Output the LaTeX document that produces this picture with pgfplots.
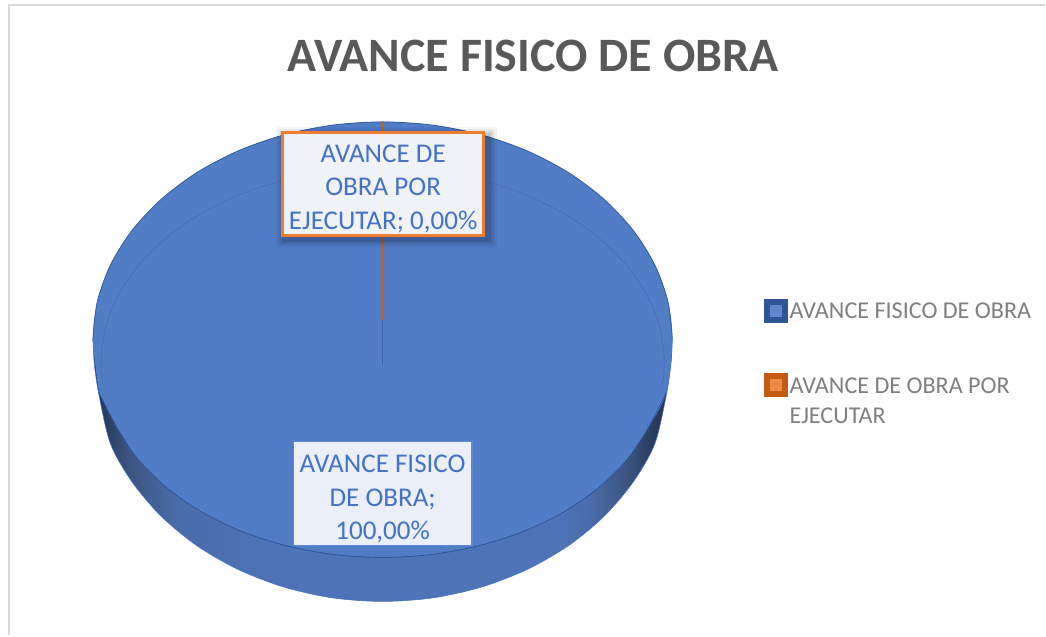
\documentclass[border=0pt]{standalone}
\usepackage{fontspec}
\setmainfont{Carlito}
\usepackage{pgfplots}
\pgfplotsset{compat=1.18}
\definecolor{face}{HTML}{517CC6}
\definecolor{sd0}{HTML}{22324F}
\definecolor{sd1}{HTML}{2A3C60}
\definecolor{sd2}{HTML}{3C5480}
\definecolor{sd3}{HTML}{4A6BA8}
\definecolor{sd4}{HTML}{4E73B8}
\definecolor{edgeblue}{HTML}{2F5597}
\definecolor{lblblue}{HTML}{4472C4}
\definecolor{lblorange}{HTML}{ED7D31}
\definecolor{sliceorange}{HTML}{C55A11}
\definecolor{legtext}{HTML}{7F7F7F}
\definecolor{titlegrey}{HTML}{595959}
\pgfdeclarehorizontalshading{sideshade}{100bp}{color(0bp)=(sd0);color(25bp)=(sd0);color(26bp)=(sd1);color(28bp)=(sd2);color(32bp)=(sd3);color(40bp)=(sd4);color(65bp)=(sd4);color(68bp)=(sd3);color(71bp)=(sd2);color(73.25bp)=(sd1);color(75bp)=(sd0);color(100bp)=(sd0)}
\begin{document}
\begin{tikzpicture}
\begin{axis}[
  scale only axis, width=784.5pt, height=477pt,
  xmin=0, xmax=1046, ymin=0, ymax=636, y dir=reverse,
  hide axis, clip=false]
% canvas and frame
\addplot[draw=none, fill=white] coordinates {(0,0)(1046,0)(1046,636)(0,636)} --cycle;
\addplot[color=black!15, line width=1.5pt] coordinates {(9,636)(9,5)(1046,5)};
% side wall: silhouette
\addplot[smooth, draw=none, shade, shading=sideshade] coordinates {
 (93,340)(94.5,365)(99,395)(110.5,444)(131.9,482)(160.9,516.3)(196.6,545.9)(238,569.8)(283.8,587.5)(332.6,598.4)(383,602)
 (433.4,598.4)(482.2,587.5)(528,569.8)(569.4,545.9)(605.1,516.3)(634.1,482)(655.5,444)(667,395)(671.5,365)(673,340)
 (668.6,302.1)(655.5,265.4)(634.1,231)(605.1,199.9)(569.4,173)(528,151.2)(482.2,135.1)(433.4,125.3)(383,122)
 (332.6,125.3)(283.8,135.1)(238,151.2)(196.6,173)(160.9,199.9)(131.9,231)(110.5,265.4)(97.4,302.1)(93,340)} --cycle;
\addplot[smooth, color=lblblue, line width=0.4pt] coordinates {
 (93,340)(94.5,365)(99,395)(110.5,444)(131.9,482)(160.9,516.3)(196.6,545.9)(238,569.8)(283.8,587.5)(332.6,598.4)(383,602)
 (433.4,598.4)(482.2,587.5)(528,569.8)(569.4,545.9)(605.1,516.3)(634.1,482)(655.5,444)(667,395)(671.5,365)(673,340)};
% top face
\addplot[smooth, draw=none, fill=face] coordinates {
 (99,393)(93,340)(97.4,302.1)(110.5,265.4)(131.9,231)(160.9,199.9)(196.6,173)(238,151.2)(283.8,135.1)(332.6,125.3)(383,122)
 (433.4,125.3)(482.2,135.1)(528,151.2)(569.4,173)(605.1,199.9)(634.1,231)(655.5,265.4)(668.6,302.1)(673,340)(667,393)
 (648,429.7)(627.2,460.5)(599,488.3)(564.3,512.4)(524,531.9)(479.4,546.2)(432,555)(383,558)
 (334,555)(286.6,546.2)(242,531.9)(201.7,512.4)(167,488.3)(138.8,460.5)(118,429.7)(99,393)} --cycle;
% top rim
\addplot[smooth, color=edgeblue!80!face, line width=0.6pt] coordinates {
 (93,340)(97.4,302.1)(110.5,265.4)(131.9,231)(160.9,199.9)(196.6,173)(238,151.2)(283.8,135.1)(332.6,125.3)(383,122)
 (433.4,125.3)(482.2,135.1)(528,151.2)(569.4,173)(605.1,199.9)(634.1,231)(655.5,265.4)(668.6,302.1)(673,340)};
% inner ellipse, upper part (faint)
\addplot[smooth, color=edgeblue!40!face, line width=0.4pt] coordinates {
 (103,385)(101,363)(105.3,329.1)(118,296.3)(138.8,265.5)(167,237.7)(201.7,213.6)(242,194.1)(286.6,179.8)(334,171)(383,168)
 (432,171)(479.4,179.8)(524,194.1)(564.3,213.6)(599,237.7)(627.2,265.5)(648,296.3)(660.7,329.1)(665,363)(663,385)};
% inner ellipse, lower part (front edge)
\addplot[smooth, color=edgeblue, line width=0.6pt] coordinates {
 (99,393)(118,429.7)(138.8,460.5)(167,488.3)(201.7,512.4)(242,531.9)(286.6,546.2)(334,555)(383,558)
 (432,555)(479.4,546.2)(524,531.9)(564.3,512.4)(599,488.3)(627.2,460.5)(648,429.7)(667,393)};
% zero-width slice
\addplot[color=edgeblue!60!face, line width=0.6pt] coordinates {(383,320)(383,365)};
\addplot[color=sliceorange, line width=0.9pt] coordinates {(383,122)(383,320)};
% label box shadow
\fill[black, opacity=.04] (axis cs:276,127) rectangle (axis cs:497,248);
\fill[black, opacity=.05] (axis cs:278,129) rectangle (axis cs:495,246);
\fill[black, opacity=.07] (axis cs:280,131) rectangle (axis cs:493,244);
\fill[black, opacity=.09] (axis cs:282,133) rectangle (axis cs:491,242);
% labels
\node[draw=lblorange, line width=2.2pt, fill=white, fill opacity=.92,
  minimum width=151pt, minimum height=77pt, inner sep=0pt] at (axis cs:383.5,184) {};
\node[text=lblblue, inner sep=0pt, align=center, font=\fontsize{20.3}{25}\selectfont]
  at (axis cs:383.5,189) {AVANCE DE\\OBRA POR\\EJECUTAR; 0,00\%};
\node[draw=lblblue!85!white, line width=1.2pt, fill=lblblue!11!white,
  minimum width=134pt, minimum height=78pt, inner sep=0pt] at (axis cs:383,494) {};
\node[text=lblblue, inner sep=0pt, align=center, font=\fontsize{20.3}{25}\selectfont]
  at (axis cs:383,499.5) {AVANCE FISICO\\DE OBRA;\\100,00\%};
% title
\node[text=titlegrey, font=\fontsize{36}{42}\selectfont\bfseries] at (axis cs:533.5,56) {AVANCE FISICO DE OBRA};
% legend
\addplot[only marks, mark=square*, color=edgeblue, mark size=8.4pt, mark options={rounded corners=1.2pt}] coordinates {(776.5,311)};
\addplot[only marks, mark=square*, color=lblblue!85!white, mark size=3.9pt] coordinates {(776.5,311)};
\addplot[only marks, mark=square*, color=sliceorange, mark size=8.4pt, mark options={rounded corners=1.2pt}] coordinates {(776.5,385)};
\addplot[only marks, mark=square*, color=lblorange!90!white, mark size=3.9pt] coordinates {(776.5,385)};
\node[anchor=west, inner sep=0pt, text=legtext, font=\fontsize{18.1}{22.5}\selectfont] at (axis cs:790,311) {AVANCE FISICO DE OBRA};
\node[anchor=north west, inner sep=0pt, align=left, text=legtext, font=\fontsize{18.1}{22.5}\selectfont] at (axis cs:790,378) {AVANCE DE OBRA POR\\EJECUTAR};
\end{axis}
\end{tikzpicture}
\end{document}
